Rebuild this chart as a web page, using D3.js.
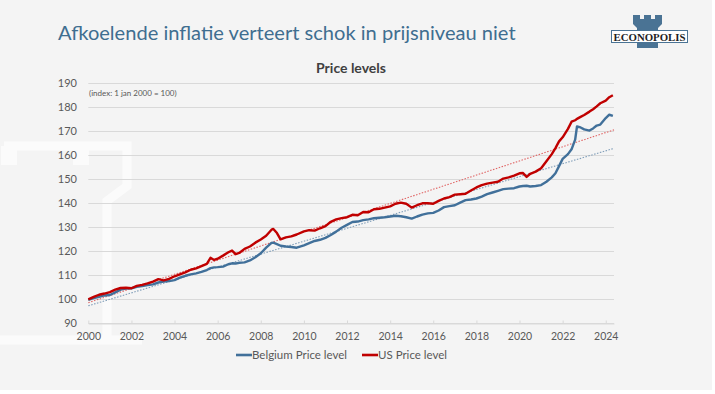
<!DOCTYPE html>
<html>
<head>
<meta charset="utf-8">
<script src="https://cdn.jsdelivr.net/npm/d3@7"></script>
<style>
  html, body { margin: 0; padding: 0; background: #ffffff; }
  svg { display: block; font-family: Lato, "Open Sans", sans-serif; }
</style>
</head>
<body>
<svg id="chart" width="715" height="394"></svg>
<script>
// monthly readings (YYYY-MM), index 1 jan 2000 = 100
const months = [
  '2000-01','2000-04','2000-07','2000-10','2001-01','2001-04','2001-07','2001-10',
  '2002-01','2002-04','2002-07','2002-10','2003-01','2003-04','2003-07','2003-10',
  '2004-01','2004-04','2004-07','2004-10','2005-01','2005-04','2005-07','2005-09',
  '2005-11','2006-01','2006-04','2006-07','2006-09','2006-11','2007-01','2007-04',
  '2007-07','2007-10','2008-01','2008-04','2008-07','2008-08','2008-10','2008-12',
  '2009-03','2009-06','2009-09','2010-01','2010-04','2010-07','2010-10','2011-01',
  '2011-04','2011-07','2011-10','2012-01','2012-04','2012-07','2012-10','2013-01',
  '2013-04','2013-07','2013-10','2014-01','2014-04','2014-07','2014-10','2015-01',
  '2015-04','2015-07','2015-10','2016-01','2016-04','2016-07','2016-10','2017-01',
  '2017-04','2017-07','2017-10','2018-01','2018-04','2018-07','2018-10','2019-01',
  '2019-04','2019-07','2019-10','2020-01','2020-03','2020-05','2020-07','2020-10',
  '2021-01','2021-04','2021-07','2021-09','2021-11','2022-01','2022-04','2022-06',
  '2022-08','2022-09','2022-11','2023-01','2023-04','2023-06','2023-08','2023-10',
  '2024-01','2024-03','2024-05'
];

const belgium = [
  99.8, 100.5, 101.0, 101.6, 101.8, 102.9, 104.0, 104.5,
  104.6, 105.2, 105.5, 105.9, 106.2, 107.0, 107.4, 107.6,
  108.0, 109.0, 109.8, 110.4, 110.8, 111.4, 112.2, 113.0,
  113.3, 113.4, 113.6, 114.6, 115.0, 114.9, 115.2, 115.4,
  116.2, 117.5, 119.2, 121.5, 123.5, 123.6, 123.0, 122.3,
  122.0, 121.8, 121.5, 122.5, 123.4, 124.3, 124.8, 125.6,
  126.8, 128.2, 129.8, 131.0, 132.2, 132.4, 133.0, 133.3,
  133.8, 134.0, 134.2, 134.5, 134.8, 134.6, 134.2, 133.6,
  134.5, 135.3, 135.8, 136.0, 137.0, 138.4, 138.8, 139.2,
  140.3, 141.3, 141.6, 142.0, 142.8, 143.8, 144.5, 145.2,
  145.9, 146.1, 146.3, 147.0, 147.2, 147.3, 147.0, 147.2,
  147.6, 149.0, 150.8, 152.5, 155.5, 158.5, 160.5, 162.5,
  166.5, 172.0, 171.6, 170.8, 170.3, 171.2, 172.4, 172.8,
  175.5, 176.9, 176.4
];

const us = [
  100.0, 101.0, 101.9, 102.4, 103.0, 104.0, 104.7, 104.8,
  104.6, 105.6, 106.0, 106.6, 107.4, 108.4, 107.9, 108.5,
  109.6, 110.4, 111.2, 112.3, 112.9, 113.8, 114.8, 117.3,
  116.4, 116.9, 118.2, 119.6, 120.3, 118.8, 119.3, 121.0,
  122.0, 123.6, 124.9, 126.5, 129.0, 129.3, 127.6, 125.0,
  125.8, 126.2, 127.0, 128.3, 128.8, 128.6, 129.6, 130.5,
  132.3, 133.3, 133.8, 134.2, 135.2, 135.0, 136.4, 136.3,
  137.5, 137.7, 138.2, 138.7, 139.8, 140.3, 139.8, 138.2,
  139.2, 140.0, 140.0, 139.8, 141.0, 142.0, 142.6, 143.6,
  143.8, 144.0, 145.3, 146.6, 147.6, 148.2, 148.6, 149.0,
  150.3, 150.8, 151.5, 152.5, 152.6, 151.0, 152.3, 153.2,
  154.6, 157.5, 160.5, 163.0, 165.8, 167.5, 171.0, 174.0,
  174.6, 175.2, 176.0, 176.8, 178.2, 179.2, 180.4, 181.7,
  182.8, 184.2, 185.0
];

// dotted linear trends: [start, end] values
const trendBelgium = [97.3, 162.9];
const trendUs = [98.6, 170.6];

const yTicks = [90, 100, 110, 120, 130, 140, 150, 160, 170, 180, 190];
const seriesNames = ['Belgium Price level', 'US Price level'];

const blue = '#41709a';
const red = '#c00000';
const textGrey = '#595959';

const parseMonth = d3.timeParse('%Y-%m');
const dates = months.map(parseMonth);
const start = new Date(2000, 0, 1);
const end = new Date(2024, 4, 20);

const svg = d3.select('#chart');

svg.append('rect')
    .attr('width', 712)
    .attr('height', 390)
    .attr('fill', '#f4f4f4');

// faint logo watermark on the left
const mark = svg.append('g')
    .attr('fill', 'none')
    .attr('stroke', '#fbfbfb')
    .attr('stroke-width', 9);
mark.append('path').attr('d', 'M4,146 H127 V186 L107,201 V340');
mark.append('path').attr('d', 'M0,340 H142');
mark.append('path').attr('d', 'M9,146 V165 M81,146 V165').attr('stroke-width', 16);

// title
const fitText = (sel, width) => {
    const w = sel.node().getComputedTextLength();
    const size = parseFloat(sel.attr('font-size'));
    sel.attr('font-size', (size * width) / w);
};

const title = svg.append('text')
    .attr('x', 58)
    .attr('y', 40)
    .attr('font-size', 22)
    .attr('fill', '#3f6e90')
    .text('Afkoelende inflatie verteert schok in prijsniveau niet');
fitText(title, 458);

// Econopolis logo
const logo = svg.append('g');
logo.append('path')
    .attr('fill', '#4a7394')
    .attr('d', 'M633,15 H640 V19 H644 V15 H651 V19 H655 V15 H662 V24 L658,28 V48 H637 V28 L633,24 Z');
logo.append('rect')
    .attr('x', 611.5).attr('y', 30.5)
    .attr('width', 76).attr('height', 12)
    .attr('fill', '#ffffff')
    .attr('stroke', '#4a7394');
logo.append('text')
    .attr('x', 649.5).attr('y', 40.5)
    .attr('text-anchor', 'middle')
    .attr('font-family', '"Liberation Serif", serif')
    .attr('font-weight', 'bold')
    .attr('font-size', 10.5)
    .attr('textLength', 72)
    .attr('lengthAdjust', 'spacingAndGlyphs')
    .attr('fill', '#1f1f1f')
    .text('ECONOPOLIS');

// chart title
svg.append('text')
    .attr('x', 351)
    .attr('y', 73)
    .attr('text-anchor', 'middle')
    .attr('font-size', 14)
    .attr('font-weight', 'bold')
    .attr('fill', '#404040')
    .text('Price levels');

const x = d3.scaleTime().domain([start, end]).range([88.3, 614]);
const y = d3.scaleLinear().domain([90, 190]).range([323.3, 83.3]);

// gridlines
svg.append('g')
    .selectAll('line')
    .data(yTicks)
    .join('line')
    .attr('x1', x(start))
    .attr('x2', x(end))
    .attr('y1', d => Math.round(y(d)) + 0.5)
    .attr('y2', d => Math.round(y(d)) + 0.5)
    .attr('stroke', '#d9d9d9');

// y axis labels
svg.append('g')
    .selectAll('text')
    .data(yTicks)
    .join('text')
    .attr('x', 77)
    .attr('y', d => y(d) + 4)
    .attr('text-anchor', 'end')
    .attr('font-size', 11)
    .attr('fill', textGrey)
    .text(d => d);

// x axis
const xAxis = d3.axisBottom(x)
    .ticks(d3.timeYear.every(2))
    .tickFormat(d3.timeFormat('%Y'))
    .tickSizeInner(-3)
    .tickSizeOuter(0)
    .tickPadding(9);

const gx = svg.append('g')
    .attr('transform', `translate(0,${Math.round(y(90)) + 0.5})`)
    .call(xAxis);
gx.select('.domain').attr('stroke', '#d9d9d9');
gx.selectAll('.tick line').attr('stroke', '#d9d9d9');
gx.selectAll('.tick text')
    .attr('font-family', 'Lato, "Open Sans", sans-serif')
    .attr('font-size', 10.5)
    .attr('fill', textGrey);

svg.append('text')
    .attr('x', 89)
    .attr('y', 96)
    .attr('font-size', 8)
    .attr('fill', textGrey)
    .text('(index: 1 jan 2000 = 100)');

// trend lines
const trends = [
    { values: trendUs, color: '#e06666' },
    { values: trendBelgium, color: '#7f9db8' }
];
svg.append('g')
    .selectAll('line')
    .data(trends)
    .join('line')
    .attr('x1', x(start))
    .attr('x2', x(end))
    .attr('y1', d => y(d.values[0]))
    .attr('y2', d => y(d.values[1]))
    .attr('stroke', d => d.color)
    .attr('stroke-width', 1.1)
    .attr('stroke-dasharray', '1.5,1.5');

// series
const line = d3.line()
    .x((d, i) => x(dates[i]))
    .y(d => y(d));

const series = [
    { values: belgium, color: blue },
    { values: us, color: red }
];

svg.append('g')
    .selectAll('path')
    .data(series)
    .join('path')
    .attr('d', d => line(d.values))
    .attr('fill', 'none')
    .attr('stroke', d => d.color)
    .attr('stroke-width', 2.4)
    .attr('stroke-linejoin', 'round');

// legend
const legendX = [236, 362];
const legend = svg.append('g')
    .selectAll('g')
    .data(series)
    .join('g')
    .attr('transform', (d, i) => `translate(${legendX[i]},355)`);
legend.append('line')
    .attr('x1', 0)
    .attr('x2', 16)
    .attr('stroke', d => d.color)
    .attr('stroke-width', 2.6);
legend.append('text')
    .attr('x', 16)
    .attr('y', 4)
    .attr('font-size', 11.5)
    .attr('fill', textGrey)
    .text((d, i) => seriesNames[i]);
</script>
</body>
</html>
